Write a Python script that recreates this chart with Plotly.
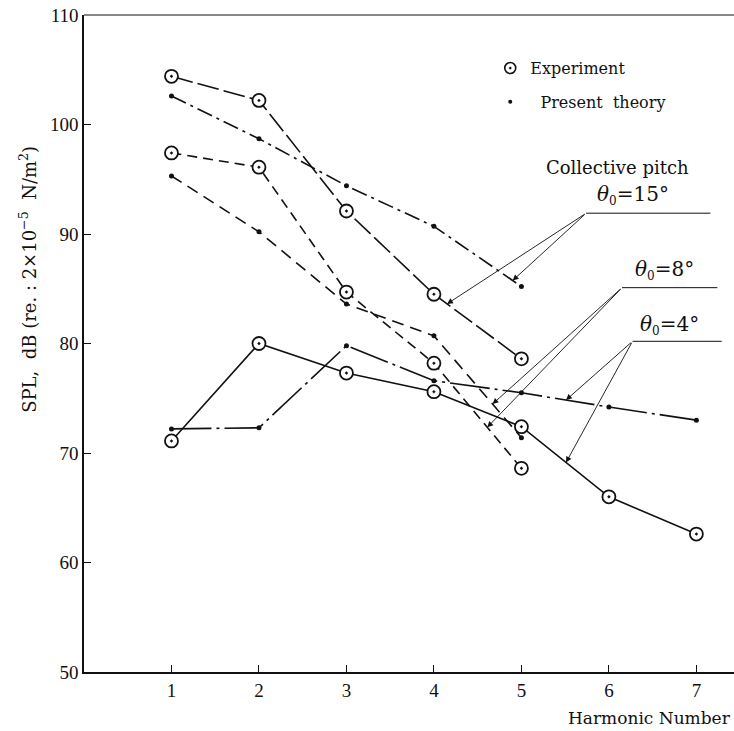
import plotly.graph_objects as go
import numpy as np

harm5 = [1, 2, 3, 4, 5]
harm7 = [1, 2, 3, 4, 5, 6, 7]

exp_15 = [104.4, 102.2, 92.1, 84.5, 78.6]
thy_15 = [102.6, 98.7, 94.4, 90.7, 85.2]
exp_8 = [97.4, 96.1, 84.7, 78.2, 68.6]
thy_8 = [95.3, 90.2, 83.6, 80.7, 71.4]
exp_4 = [71.1, 80.0, 77.3, 75.6, 72.4, 66.0, 62.6]
thy_4 = [72.2, 72.3, 79.8, 76.6, 75.5, 74.2, 73.0]

x_ticks = [1, 2, 3, 4, 5, 6, 7]
y_ticks = [50, 60, 70, 80, 90, 100, 110]

FONT = "Liberation Serif"
WFONT = "DejaVu Serif"
BLACK = "#111111"
NB = "\u00a0"

fig = go.Figure()

def add_series(x, y, kind, dash, width=1.6):
    if kind == "exp":
        marker = dict(symbol="circle-dot", size=13, color="white",
                      line=dict(color=BLACK, width=1.8))
    else:
        marker = dict(symbol="circle", size=5, color=BLACK, line=dict(width=0))
    fig.add_trace(go.Scatter(x=x, y=y, mode="lines+markers",
                             line=dict(color=BLACK, width=width, dash=dash),
                             marker=marker, showlegend=False))

add_series(harm5, exp_15, "exp", "22px,5px")
add_series(harm5, thy_15, "thy", "16px,5px,3px,5px")
add_series(harm5, exp_8, "exp", "10px,6px")
add_series(harm5, thy_8, "thy", "12px,7px")
add_series(harm7, exp_4, "exp", "solid")
add_series(harm7, thy_4, "thy", "40px,5px,3px,5px")

# legend entries
fig.add_trace(go.Scatter(x=[None], y=[None], mode="markers", name="Experiment",
                         legendgroup="a",
                         marker=dict(symbol="circle-dot", size=11, color="white",
                                     line=dict(color=BLACK, width=1.6))))
fig.add_trace(go.Scatter(x=[None], y=[None], mode="markers",
                         name=NB + NB + "Present" + NB + NB + "theory",
                         legendgroup="b",
                         marker=dict(symbol="circle", size=4, color=BLACK)))

def interp(xs, ys, x):
    return float(np.interp(x, xs, ys))

TH = "<i>θ</i><sub><span style='font-size:12px'>0</span></sub>="
labels = [
    (TH + "15°", 5.74, 91.9, 7.16, [(harm5, exp_15, 4.15), (harm5, thy_15, 4.9)], 6.28, 93.6),
    (TH + "8°", 6.15, 85.1, 7.24, [(harm5, thy_8, 4.67), (harm5, exp_8, 4.61)], 6.63, 86.7),
    (TH + "4°", 6.27, 80.2, 7.29, [(harm7, thy_4, 5.51), (harm7, exp_4, 5.51)], 6.69, 81.7),
]
for text, ax0, ay0, xend, tips, tx, ty in labels:
    fig.add_shape(type="line", x0=ax0, y0=ay0, x1=xend, y1=ay0,
                  line=dict(color=BLACK, width=1))
    for xs, ys, tipx in tips:
        fig.add_annotation(x=tipx, y=interp(xs, ys, tipx), ax=ax0, ay=ay0,
                           axref="x", ayref="y", xref="x", yref="y",
                           showarrow=True, arrowhead=2, arrowsize=1.3,
                           arrowwidth=0.9, arrowcolor=BLACK, text="")
    fig.add_annotation(x=tx, y=ty, text=text, showarrow=False,
                       font=dict(family=WFONT, size=20, color=BLACK),
                       xanchor="center", yanchor="middle")

fig.add_annotation(x=0.8215, y=0.7686, xref="paper", yref="paper",
                   text="Collective" + NB + "pitch", showarrow=False,
                   font=dict(family=WFONT, size=18, color=BLACK),
                   xanchor="center", yanchor="middle")

fig.add_annotation(x=0.999, y=-0.070, xref="paper", yref="paper",
                   text="Harmonic" + NB + "Number", showarrow=False,
                   font=dict(family=WFONT, size=17, color=BLACK),
                   xanchor="right", yanchor="middle")

ytitle = ("SPL," + NB + NB + "dB" + NB + "(re." + NB + ":" + NB + "2×10<sup>−5</sup>"
          + NB + NB + "N/m<sup>2</sup>)")
fig.add_annotation(x=-0.086, y=0.597, xref="paper", yref="paper",
                   text=ytitle, textangle=-90, showarrow=False,
                   font=dict(family=WFONT, size=18, color=BLACK),
                   xanchor="center", yanchor="middle")

fig.update_layout(
    width=734, height=731,
    margin=dict(l=84, r=0, t=15, b=59),
    paper_bgcolor="white", plot_bgcolor="white",
    font=dict(family=FONT, size=17, color=BLACK),
    legend=dict(x=0.625, y=0.945, xanchor="left", yanchor="top",
                bgcolor="rgba(0,0,0,0)", borderwidth=0,
                font=dict(family=WFONT, size=16, color=BLACK),
                itemwidth=30, tracegroupgap=10),
    xaxis=dict(range=[0, 7.43], tickvals=x_ticks,
               ticktext=[str(v) for v in x_ticks],
               ticks="inside", ticklen=7, tickwidth=1.2, tickcolor=BLACK,
               showgrid=False, zeroline=False, showline=True,
               linecolor=BLACK, linewidth=1.5, mirror=False,
               tickfont=dict(family=FONT, size=19)),
    yaxis=dict(range=[50, 110], tickvals=y_ticks,
               ticktext=[str(v) for v in y_ticks],
               ticks="inside", ticklen=7, tickwidth=1.2, tickcolor=BLACK,
               showgrid=False, zeroline=False, showline=True,
               linecolor=BLACK, linewidth=1.5, mirror=False,
               tickfont=dict(family=FONT, size=19)),
)

# top border line
fig.add_shape(type="line", xref="paper", yref="paper", x0=0, x1=1, y0=1, y1=1,
              line=dict(color=BLACK, width=1.2))

fig.write_html("out.html")
